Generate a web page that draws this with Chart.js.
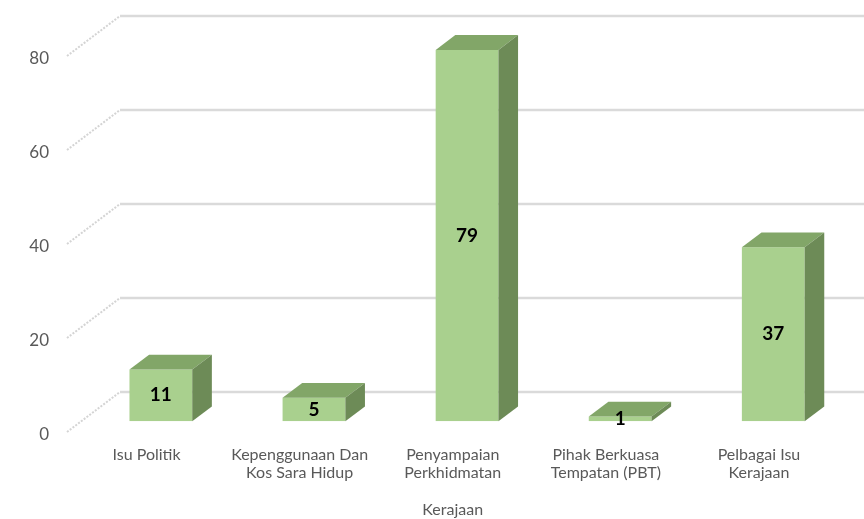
<!DOCTYPE html>
<html><head><meta charset="utf-8">
<script src="https://cdn.jsdelivr.net/npm/chart.js@4/dist/chart.umd.min.js"></script>
<style>html,body{margin:0;padding:0;background:#fff;overflow:hidden}</style>
</head><body>
<canvas id="c" width="864" height="519"></canvas>
<script>
const categories = [["Isu Politik"],["Kepenggunaan Dan","Kos Sara Hidup"],["Penyampaian","Perkhidmatan"],["Pihak Berkuasa","Tempatan (PBT)"],["Pelbagai Isu","Kerajaan"]];
const values = [11, 5, 79, 1, 37];
const yTicks = [0, 20, 40, 60, 80];
const axisTitle = "Kerajaan";

const DX = 53, DY = -40;          // full depth of the 3D box
const BAR_OFF = 0.27, BAR_DEPTH = 0.37;
const FRONT = '#A9D08E', TOP = '#82A668', SIDE = '#6D8B57';
const FONT = 'Lato, "Open Sans", sans-serif';

const threeD = {
  id: 'threeD',
  beforeDatasetsDraw(chart) {
    const {ctx, chartArea, scales: {y}} = chart;
    ctx.save();
    const x0 = chartArea.left - 3;
    yTicks.forEach(v => {
      const py = y.getPixelForValue(v);
      ctx.lineWidth = 2;
      ctx.strokeStyle = '#d4d4d4';
      ctx.setLineDash([2, 1.5]);
      ctx.beginPath(); ctx.moveTo(x0, py); ctx.lineTo(x0 + DX, py + DY); ctx.stroke();
      ctx.setLineDash([]);
      ctx.lineWidth = 2.5;
      ctx.strokeStyle = '#dadada';
      ctx.beginPath(); ctx.moveTo(x0 + DX, py + DY); ctx.lineTo(chartArea.right + DX + 40, py + DY); ctx.stroke();
    });
    ctx.restore();
    ctx.save();
    ctx.translate(DX * BAR_OFF, DY * BAR_OFF);
  },
  afterDatasetsDraw(chart) {
    const {ctx} = chart;
    const meta = chart.getDatasetMeta(0);
    const dx = DX * BAR_DEPTH, dy = DY * BAR_DEPTH;
    meta.data.forEach((bar, i) => {
      const p = bar.getProps(['x', 'y', 'base', 'width'], true);
      const l = p.x - p.width / 2, r = p.x + p.width / 2;
      ctx.fillStyle = TOP;
      ctx.beginPath();
      ctx.moveTo(l, p.y); ctx.lineTo(l + dx, p.y + dy); ctx.lineTo(r + dx, p.y + dy); ctx.lineTo(r, p.y);
      ctx.closePath(); ctx.fill();
      ctx.fillStyle = SIDE;
      ctx.beginPath();
      ctx.moveTo(r, p.y); ctx.lineTo(r + dx, p.y + dy); ctx.lineTo(r + dx, p.base + dy); ctx.lineTo(r, p.base);
      ctx.closePath(); ctx.fill();
      ctx.fillStyle = '#000';
      ctx.font = 'bold 19px ' + FONT;
      ctx.textAlign = 'center';
      ctx.textBaseline = 'middle';
      ctx.fillText(String(values[i]), p.x, (p.y + p.base) / 2);
    });
    ctx.restore();
  }
};

new Chart(document.getElementById('c'), {
  type: 'bar',
  data: {
    labels: categories,
    datasets: [{
      data: values,
      backgroundColor: FRONT,
      borderWidth: 0,
      categoryPercentage: 1,
      barPercentage: 0.41
    }]
  },
  options: {
    responsive: false,
    animation: false,
    devicePixelRatio: 1,
    layout: {padding: {left: 0, right: 28.5, top: 56, bottom: 0}},
    plugins: {legend: {display: false}, tooltip: {enabled: false}},
    scales: {
      x: {
        grid: {display: false},
        border: {display: false},
        ticks: {color: '#595959', font: {family: FONT, size: 16, lineHeight: 1.1}, maxRotation: 0, autoSkip: false, padding: 6},
        title: {display: true, text: axisTitle, color: '#595959', font: {family: FONT, size: 16}, padding: {top: 14, bottom: 0}},
        afterFit(s) { s.height = 87; }
      },
      y: {
        min: 0, max: 80,
        grid: {display: false},
        border: {display: false},
        ticks: {stepSize: 20, color: '#595959', font: {family: FONT, size: 17}, padding: 13, labelOffset: 3},
        afterFit(s) { s.width = 70; }
      }
    }
  },
  plugins: [threeD]
});
</script>
</body></html>
